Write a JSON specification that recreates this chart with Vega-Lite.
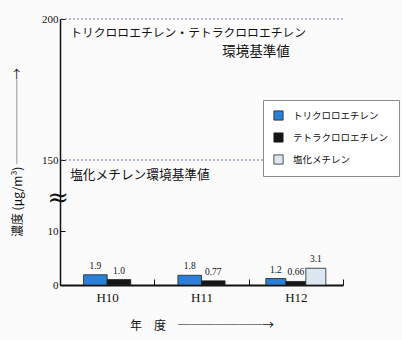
{
  "$schema": "https://vega.github.io/schema/vega-lite/v6.json",
  "autosize": "none",
  "width": 283,
  "height": 266,
  "padding": {"left": 60, "top": 19, "right": 59, "bottom": 55},
  "background": "#fbfbfc",
  "datasets": {
    "bars": [
      {"year": "H10", "substance": "トリクロロエチレン", "value": 1.9, "label": "1.9"},
      {"year": "H10", "substance": "テトラクロロエチレン", "value": 1.0, "label": "1.0"},
      {"year": "H11", "substance": "トリクロロエチレン", "value": 1.8, "label": "1.8"},
      {"year": "H11", "substance": "テトラクロロエチレン", "value": 0.77, "label": "0.77"},
      {"year": "H12", "substance": "トリクロロエチレン", "value": 1.2, "label": "1.2"},
      {"year": "H12", "substance": "テトラクロロエチレン", "value": 0.66, "label": "0.66"},
      {"year": "H12", "substance": "塩化メチレン", "value": 3.1, "label": "3.1"}
    ],
    "refs": [{"y": 200}, {"y": 150}],
    "notes": [
      {"id": "a", "text": "トリクロロエチレン・テトラクロロエチレン", "y": 195},
      {"id": "b", "text": "環境基準値", "y": 188.3},
      {"id": "c", "text": "塩化メチレン環境基準値", "y": 120.4},
      {"id": "brk", "text": "≈", "y": 75}
    ]
  },
  "config": {
    "view": {"stroke": null},
    "axis": {"grid": false}
  },
  "layer": [
    {
      "data": {"name": "refs"},
      "mark": {"type": "rule", "strokeDash": [2, 2], "color": "#7a70a8", "strokeWidth": 1},
      "encoding": {"y": {"field": "y", "type": "quantitative"}}
    },
    {
      "data": {"name": "bars"},
      "transform": [{"filter": "datum.year != 'H12'"}],
      "encoding": {
        "x": {
          "field": "year", "type": "nominal",
          "scale": {"domain": ["H10", "H11", "H12"], "paddingInner": 0, "paddingOuter": 0},
          "axis": {
            "title": "年　度　───────→",
            "titleFont": "Noto Sans CJK JP", "titleFontSize": 12, "titleFontWeight": "normal", "titleColor": "#111",
            "titlePadding": 16,
            "labelAngle": 0, "labelFont": "Liberation Serif", "labelFontSize": 13, "labelColor": "#111",
            "labelPadding": 12,
            "tickBand": "extent", "tickSize": -6, "tickColor": "#111", "tickWidth": 1,
            "domainColor": "#111", "domainWidth": 2
          }
        },
        "y": {
          "field": "value", "type": "quantitative",
          "scale": {"domain": [0, 10, 150, 200], "range": [266, 212, 141, 0], "nice": false, "zero": false},
          "axis": {
            "title": "濃度 (μg/m³)  ───────→",
            "titleFont": "Noto Sans CJK JP", "titleFontSize": 12, "titleFontWeight": "normal", "titleColor": "#111",
            "titlePadding": 17,
            "values": [0, 10, 150, 200],
            "labelFont": "Liberation Serif", "labelFontSize": 11, "labelColor": "#111",
            "labelPadding": 7,
            "tickSize": -5, "tickColor": "#111",
            "domainColor": "#111", "domainWidth": 1.5
          }
        },
        "xOffset": {"field": "substance", "type": "nominal",
          "scale": {"domain": ["トリクロロエチレン", "テトラクロロエチレン"], "paddingInner": 0, "paddingOuter": 1.358}}
      },
      "layer": [
        {
          "mark": {"type": "bar", "stroke": "#222", "strokeWidth": 0.8},
          "encoding": {
            "color": {"field": "substance", "type": "nominal",
              "scale": {"domain": ["トリクロロエチレン", "テトラクロロエチレン", "塩化メチレン"], "range": ["#2a80d8", "#151515", "#dde7f1"]},
              "legend": {
                "title": null, "orient": "none", "legendX": 203, "legendY": 81,
                "padding": 10, "fillColor": "#ffffff", "strokeColor": "#8a8a8a",
                "symbolType": "square", "symbolSize": 85, "symbolStrokeColor": "#222", "symbolStrokeWidth": 0.8,
                "labelFont": "Noto Sans CJK JP", "labelFontSize": 9.5, "labelColor": "#111", "labelOffset": 9,
                "rowPadding": 9
              }
            }
          }
        },
        {
          "mark": {"type": "text", "font": "Liberation Serif", "fontSize": 9.5, "baseline": "bottom", "dy": -4, "color": "#111"},
          "encoding": {"text": {"field": "label"}}
        }
      ]
    },
    {
      "data": {"name": "bars"},
      "transform": [{"filter": "datum.year == 'H12'"}],
      "encoding": {
        "x": {"field": "year", "type": "nominal"},
        "y": {"field": "value", "type": "quantitative"},
        "xOffset": {"field": "substance", "type": "nominal",
          "scale": {"domain": ["トリクロロエチレン", "テトラクロロエチレン", "塩化メチレン"], "paddingInner": 0, "paddingOuter": 0.858}}
      },
      "layer": [
        {
          "mark": {"type": "bar", "stroke": "#222", "strokeWidth": 0.8},
          "encoding": {"color": {"field": "substance", "type": "nominal"}}
        },
        {
          "mark": {"type": "text", "font": "Liberation Serif", "fontSize": 9.5, "baseline": "bottom", "dy": -4, "color": "#111"},
          "encoding": {"text": {"field": "label"}}
        }
      ]
    },
    {
      "data": {"name": "notes"},
      "transform": [{"filter": "datum.id == 'a'"}],
      "mark": {"type": "text", "font": "Noto Sans CJK JP", "fontSize": 11.8, "align": "left", "baseline": "middle", "dx": -37, "color": "#111"},
      "encoding": {
        "x": {"datum": "H10"},
        "y": {"field": "y", "type": "quantitative"},
        "text": {"field": "text"}
      }
    },
    {
      "data": {"name": "notes"},
      "transform": [{"filter": "datum.id == 'b'"}],
      "mark": {"type": "text", "font": "Noto Sans CJK JP", "fontSize": 13.5, "align": "left", "baseline": "middle", "dx": 115, "color": "#111"},
      "encoding": {
        "x": {"datum": "H10"},
        "y": {"field": "y", "type": "quantitative"},
        "text": {"field": "text"}
      }
    },
    {
      "data": {"name": "notes"},
      "transform": [{"filter": "datum.id == 'c'"}],
      "mark": {"type": "text", "font": "Noto Sans CJK JP", "fontSize": 12.7, "align": "left", "baseline": "middle", "dx": -37, "color": "#111"},
      "encoding": {
        "x": {"datum": "H10"},
        "y": {"field": "y", "type": "quantitative"},
        "text": {"field": "text"}
      }
    },
    {
      "data": {"name": "notes"},
      "transform": [{"filter": "datum.id == 'brk'"}],
      "mark": {"type": "text", "font": "DejaVu Serif", "fontSize": 26, "align": "center", "baseline": "middle", "dx": -49, "color": "#111"},
      "encoding": {
        "x": {"datum": "H10"},
        "y": {"field": "y", "type": "quantitative"},
        "text": {"field": "text"}
      }
    }
  ],
  "resolve": {"scale": {"xOffset": "independent"}}
}
